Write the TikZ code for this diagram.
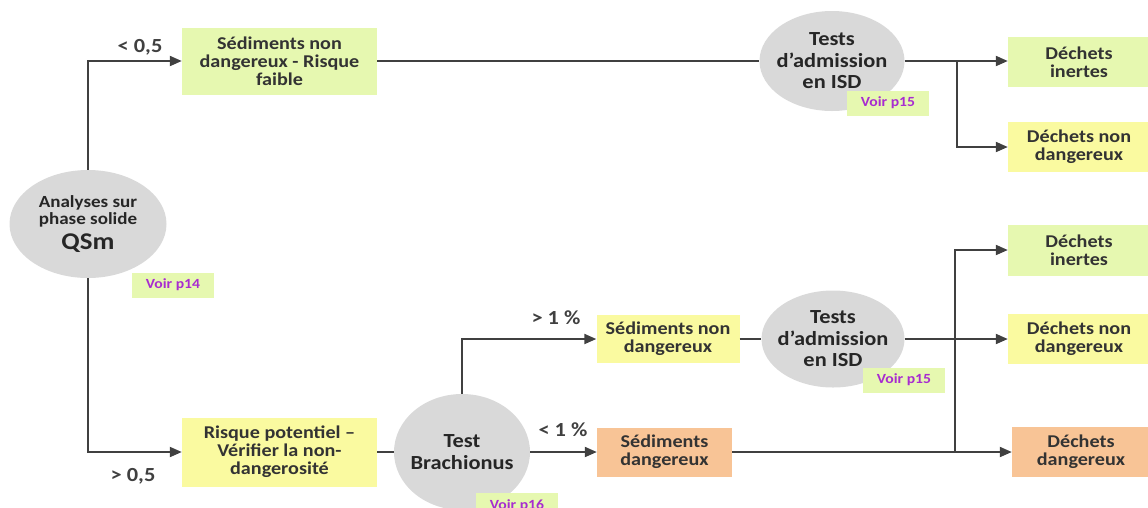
\documentclass[tikz,border=0pt]{standalone}
\usepackage{fontspec}
\setmainfont{Carlito}
\newfontfamily\calib[FakeStretch=1.12]{Carlito}
\usetikzlibrary{arrows.meta,shapes.geometric}
\definecolor{vertclair}{HTML}{E6F8B0}
\definecolor{jauneclair}{HTML}{FAFAA0}
\definecolor{orangeclair}{HTML}{F8C496}
\definecolor{grisclair}{HTML}{D9D9D9}
\definecolor{trait}{HTML}{404040}
\definecolor{voirtexte}{HTML}{A82CD0}
\tikzset{
  boite/.style={rectangle, align=center, inner sep=0pt, text=black!80,
    font=\calib\fontsize{18}{18}\selectfont\bfseries},
  bulle/.style={ellipse, fill=grisclair, align=center, inner sep=-5pt, text=black!85,
    font=\calib\fontsize{20}{21.5}\selectfont\bfseries},
  renvoi/.style={rectangle, fill=vertclair, inner sep=0pt, minimum width=82pt,
    minimum height=25pt, text=voirtexte, font=\calib\fontsize{14}{15}\selectfont\bfseries},
  seuil/.style={text=trait, font=\calib\fontsize{20}{20}\selectfont\bfseries},
  lien/.style={draw=trait, line width=2pt},
  fleche/.style={lien, -{Triangle[length=12pt,width=10pt]}}
}
\begin{document}
\begin{tikzpicture}[x=1pt,y=-1pt]
\useasboundingbox (0,0) rectangle (1148,507);
% noeud de depart
\node[bulle, minimum width=157pt, minimum height=108pt, font=\calib\fontsize{17}{17}\selectfont\bfseries] (qsm) at (88,224)
  {Analyses sur\\phase solide\\[6pt]{\fontsize{24}{24}\selectfont QSm}};
\node[renvoi] (voir14) at (173,285) {Voir p14};
% branche < 0,5
\node[boite, fill=vertclair, minimum width=195pt, minimum height=67pt] (sedfaible) at (279.5,61)
  {Sédiments non\\dangereux - Risque\\faible};
\node[bulle, minimum width=145pt, minimum height=100pt] (tests1) at (832,61) {Tests\\d’admission\\en ISD};
\node[renvoi] (voir15a) at (888,103) {Voir p15};
\node[boite, fill=vertclair, minimum width=142pt, minimum height=50pt] (inertes1) at (1079,62) {Déchets\\inertes};
\node[boite, fill=jauneclair, minimum width=142pt, minimum height=50pt] (nondang1) at (1079,147) {Déchets non\\dangereux};
% branche > 0,5
\node[boite, fill=jauneclair, minimum width=195pt, minimum height=69pt] (risque) at (279.5,452)
  {Risque potentiel –\\Vérifier la non-\\dangerosité};
\node[bulle, minimum width=136pt, minimum height=116pt] (brach) at (462,452) {Test\\Brachionus};
\node[renvoi, minimum height=27pt] (voir16) at (517,506) {Voir p16};
\node[boite, fill=jauneclair, minimum width=143pt, minimum height=48pt] (sednd) at (668,339) {Sédiments non\\dangereux};
\node[boite, fill=orangeclair, minimum width=135pt, minimum height=49pt] (seddang) at (664.5,452) {Sédiments\\dangereux};
\node[bulle, minimum width=143pt, minimum height=97pt] (tests2) at (833,339) {Tests\\d’admission\\en ISD};
\node[renvoi] (voir15b) at (904,380) {Voir p15};
\node[boite, fill=vertclair, minimum width=142pt, minimum height=51pt] (inertes2) at (1079,250) {Déchets\\inertes};
\node[boite, fill=jauneclair, minimum width=142pt, minimum height=50pt] (nondang2) at (1079,339) {Déchets non\\dangereux};
\node[boite, fill=orangeclair, minimum width=138pt, minimum height=50pt] (dang) at (1081,452) {Déchets\\dangereux};
% liaisons
\draw[fleche] (qsm.north) |- (sedfaible.west);
\node[seuil] (inf05) at (140,47) {< 0,5};
\draw[fleche] (qsm.south) |- (risque.west);
\node[seuil] (sup05) at (133,476) {> 0,5};
\draw[lien] (sedfaible.east) -- (tests1.west);
\coordinate (b1) at (957,61);
\draw[fleche] (tests1.east) -- (inertes1.west |- b1);
\draw[fleche] (b1) |- (nondang1.west);
\draw[lien] (risque.east) -- (brach.west);
\draw[fleche] (brach.north) |- (sednd.west);
\node[seuil] (sup1) at (556,318) {> 1 \%};
\draw[fleche] (brach.east) -- (seddang.west);
\node[seuil] (inf1) at (563,430) {< 1 \%};
\draw[lien] (sednd.east) -- (tests2.west);
\draw[fleche] (tests2.east) -- (nondang2.west);
\draw[fleche] (seddang.east) -- (dang.west);
\coordinate (b2) at (955,452);
\draw[fleche] (b2) |- (inertes2.west);
\end{tikzpicture}
\end{document}
